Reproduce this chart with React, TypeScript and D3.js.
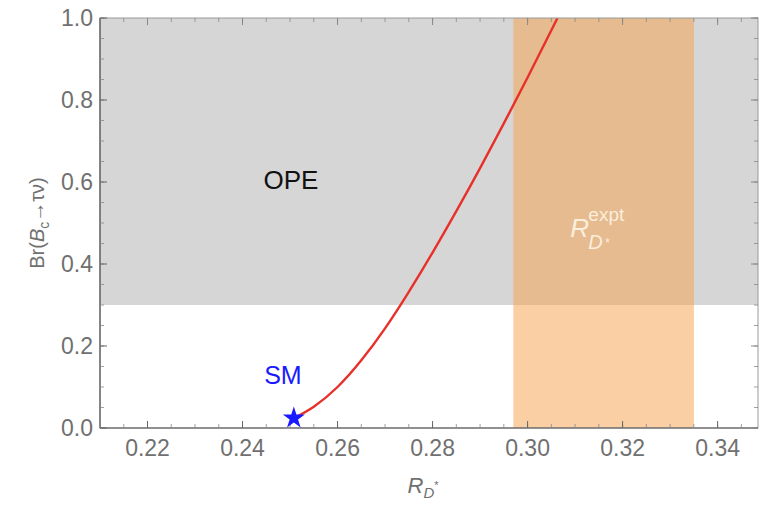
import React from 'react';
import * as d3 from 'd3';

// curve of Br(Bc -> tau nu) vs R_D*
const curveX = [0.2508, 0.2550, 0.2600, 0.2650, 0.2700, 0.2750, 0.2800, 0.2850, 0.2900, 0.2950, 0.3000, 0.3063];
const curveY = [0.024, 0.052, 0.100, 0.165, 0.243, 0.332, 0.428, 0.529, 0.634, 0.743, 0.855, 1.0];
const smPoint = [0.2508, 0.024];
const exptBand = [0.297, 0.335];
const opeLimit = 0.3;
const xTicks = [0.22, 0.24, 0.26, 0.28, 0.30, 0.32, 0.34];
const yTicks = [0.0, 0.2, 0.4, 0.6, 0.8, 1.0];

const W = 767;
const H = 505;
const margin = {top: 18, right: 9, bottom: 77, left: 100};
const font = '"Liberation Sans", Arial, sans-serif';
const tickColor = '#707070';

const App = () => {
    const innerW = W - margin.left - margin.right;
    const innerH = H - margin.top - margin.bottom;

    const xScale = d3.scaleLinear().domain([0.21, 0.3485]).range([0, innerW]);
    const yScale = d3.scaleLinear().domain([0, 1]).range([innerH, 0]);

    const pts = curveX.map((x, i) => [x, curveY[i]]);
    const line = d3.line()
        .x(d => xScale(d[0]))
        .y(d => yScale(d[1]))
        .curve(d3.curveNatural);

    const minorX = d3.range(0.21, 0.3486, 0.005);
    const minorY = d3.range(0, 1.0001, 0.05);
    const star = d3.symbol().type(d3.symbolStar).size(150)();

    // anchor of the R_D*^expt label
    const lx = xScale(0.309);
    const ly = yScale(0.465);

    return (
        <svg width={W} height={H} style={{position: 'absolute', left: 0, top: 0}} fontFamily={font}>
            <rect width={W} height={H} fill="#fff" />
            <g transform={`translate(${margin.left},${margin.top})`}>
                <clipPath id="plot">
                    <rect width={innerW} height={innerH} />
                </clipPath>
                <g clipPath="url(#plot)">
                    {/* OPE excluded region */}
                    <rect x={0} y={yScale(1)} width={innerW} height={yScale(opeLimit) - yScale(1)} fill="#d6d6d6" />
                    {/* experimental band */}
                    <rect x={xScale(exptBand[0])} y={0} width={xScale(exptBand[1]) - xScale(exptBand[0])}
                          height={innerH} fill="#f4a048" fillOpacity={0.5} />
                    <path d={line(pts)} fill="none" stroke="#e8302a" strokeWidth={2.4} />
                </g>

                {/* frame */}
                <rect width={innerW} height={innerH} fill="none" stroke="#9a9a9a" strokeWidth={1} />
                <line x1={0} x2={0} y1={0} y2={innerH} stroke="#555" strokeWidth={1.2} />
                <line x1={0} x2={innerW} y1={innerH} y2={innerH} stroke="#555" strokeWidth={1.2} />

                {/* minor ticks */}
                {minorX.map((v, i) => (
                    <g key={'mx' + i} stroke="#888" strokeWidth={0.8}>
                        <line x1={xScale(v)} x2={xScale(v)} y1={innerH} y2={innerH - 4} />
                        <line x1={xScale(v)} x2={xScale(v)} y1={0} y2={4} />
                    </g>
                ))}
                {minorY.map((v, i) => (
                    <g key={'my' + i} stroke="#888" strokeWidth={0.8}>
                        <line x1={0} x2={4} y1={yScale(v)} y2={yScale(v)} />
                        <line x1={innerW} x2={innerW - 4} y1={yScale(v)} y2={yScale(v)} />
                    </g>
                ))}

                {/* major ticks and labels */}
                {xTicks.map(v => (
                    <g key={'x' + v}>
                        <line x1={xScale(v)} x2={xScale(v)} y1={innerH} y2={innerH - 7} stroke="#666" />
                        <line x1={xScale(v)} x2={xScale(v)} y1={0} y2={7} stroke="#888" />
                        <text x={xScale(v)} y={innerH + 28} textAnchor="middle" fontSize={23} fill={tickColor}>
                            {d3.format('.2f')(v)}
                        </text>
                    </g>
                ))}
                {yTicks.map(v => (
                    <g key={'y' + v}>
                        <line x1={0} x2={7} y1={yScale(v)} y2={yScale(v)} stroke="#666" />
                        <line x1={innerW} x2={innerW - 7} y1={yScale(v)} y2={yScale(v)} stroke="#888" />
                        <text x={-7} y={yScale(v)} dy="0.36em" textAnchor="end" fontSize={23} fill={tickColor}>
                            {d3.format('.1f')(v)}
                        </text>
                    </g>
                ))}

                {/* SM point */}
                <path d={star} transform={`translate(${xScale(smPoint[0])},${yScale(smPoint[1])})`} fill="#1a1aff" />

                {/* annotations */}
                <text x={xScale(0.2502)} y={yScale(0.605)} dy="0.36em" textAnchor="middle" fontSize={26} fill="#111">OPE</text>
                <text x={xScale(0.2485)} y={yScale(0.13)} dy="0.36em" textAnchor="middle" fontSize={25} fill="#1a1aff">SM</text>
                <g fill="#fbeedd">
                    <text x={lx} y={ly} fontSize={26} fontStyle="italic">R</text>
                    <text x={lx + 18} y={ly - 16} fontSize={19}>expt</text>
                    <text x={lx + 18} y={ly + 12} fontSize={20} fontStyle="italic">D</text>
                    <text x={lx + 35} y={ly + 10} fontSize={12}>*</text>
                </g>
            </g>

            {/* axis titles */}
            <text x={margin.left + innerW / 2 - 6} y={H - 12} textAnchor="middle" fill={tickColor}>
                <tspan fontSize={22} fontStyle="italic">R</tspan>
                <tspan fontSize={15} fontStyle="italic" dy={5}>D</tspan>
                <tspan fontSize={11} dy={-9}>*</tspan>
            </text>
            <text transform={`translate(44,${margin.top + yScale(0.5)}) rotate(-90)`} textAnchor="middle" fill={tickColor} fontSize={20}>
                <tspan>Br(</tspan>
                <tspan fontStyle="italic">B</tspan>
                <tspan fontSize={14} dy={5}>c</tspan>
                <tspan dy={-5}>{'\u2192\u03c4\u03bd)'}</tspan>
            </text>
        </svg>
    );
};

export default App;
